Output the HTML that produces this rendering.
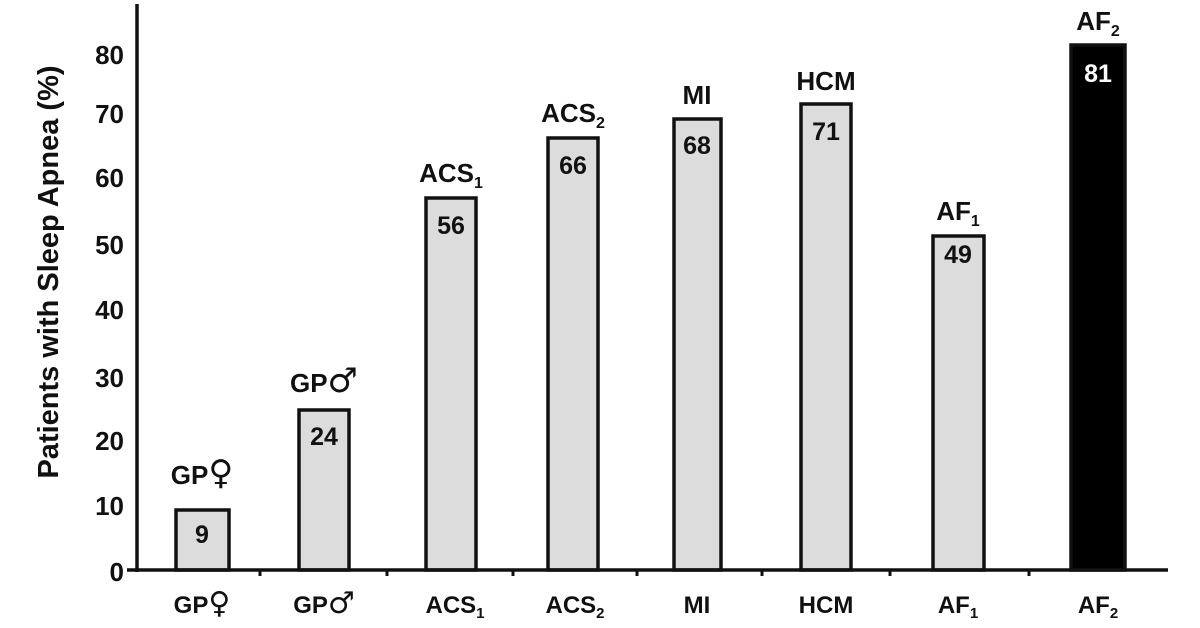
<!DOCTYPE html>
<html><head><meta charset="utf-8"><style>
html,body{margin:0;padding:0;background:#fff}
svg{display:block}
text{font-family:"Liberation Sans",Arial,sans-serif;font-weight:bold;fill:#111}
.g{font-family:"DejaVu Sans",sans-serif;font-weight:normal}
</style></head><body>
<svg width="1200" height="628" viewBox="0 0 1200 628" xmlns="http://www.w3.org/2000/svg">
<text transform="translate(58,272) rotate(-90)" text-anchor="middle" font-size="29">Patients with Sleep Apnea (%)</text>
<g font-size="26" text-anchor="end">
<text x="124" y="64">80</text><text x="124" y="123">70</text><text x="124" y="187">60</text>
<text x="124" y="254">50</text><text x="124" y="319">40</text><text x="124" y="387">30</text>
<text x="124" y="450">20</text><text x="124" y="515">10</text><text x="124" y="581">0</text>
</g>
<g fill="#dcdcdc" stroke="#111" stroke-width="3.5">
<rect x="176" y="510" width="53" height="60"/>
<rect x="299" y="410" width="50" height="160"/>
<rect x="426" y="198" width="50" height="372"/>
<rect x="548" y="138" width="50" height="432"/>
<rect x="674" y="119" width="47" height="451"/>
<rect x="801" y="104" width="50" height="466"/>
<rect x="933" y="236" width="51" height="334"/>
<rect x="1071" y="45" width="54" height="525" fill="#000"/>
</g>
<line x1="137" y1="4" x2="137" y2="572" stroke="#111" stroke-width="3.5"/>
<line x1="127" y1="570" x2="1168" y2="570" stroke="#111" stroke-width="3.5"/>
<g stroke="#111" stroke-width="3">
<line x1="260" y1="570" x2="260" y2="576"/><line x1="387" y1="570" x2="387" y2="576"/>
<line x1="513" y1="570" x2="513" y2="576"/><line x1="637" y1="570" x2="637" y2="576"/>
<line x1="762" y1="570" x2="762" y2="576"/><line x1="890" y1="570" x2="890" y2="576"/>
<line x1="1029" y1="570" x2="1029" y2="576"/>
</g>
<g font-size="25" text-anchor="middle">
<text x="202" y="543">9</text><text x="324" y="445">24</text><text x="451" y="234">56</text>
<text x="573" y="174">66</text><text x="697" y="154">68</text><text x="826" y="140">71</text>
<text x="958" y="263">49</text><text x="1098" y="82" style="fill:#fff">81</text>
</g>
<g font-size="26" text-anchor="middle">
<text x="202" y="484">GP<tspan class="g" font-size="34">♀</tspan></text>
<text x="324" y="392">GP<tspan class="g" font-size="34">♂</tspan></text>
<text x="451" y="182">ACS<tspan font-size="16" dy="6">1</tspan></text>
<text x="573" y="122">ACS<tspan font-size="16" dy="6">2</tspan></text>
<text x="697" y="104">MI</text>
<text x="826" y="90">HCM</text>
<text x="958" y="220">AF<tspan font-size="16" dy="6">1</tspan></text>
<text x="1098" y="30">AF<tspan font-size="16" dy="6">2</tspan></text>
</g>
<g font-size="24" text-anchor="middle">
<text x="202" y="613">GP<tspan class="g" font-size="30">♀</tspan></text>
<text x="324" y="613">GP<tspan class="g" font-size="30">♂</tspan></text>
<text x="455" y="613">ACS<tspan font-size="15" dy="5">1</tspan></text>
<text x="575" y="613">ACS<tspan font-size="15" dy="5">2</tspan></text>
<text x="697" y="613">MI</text>
<text x="826" y="613">HCM</text>
<text x="958" y="613">AF<tspan font-size="15" dy="5">1</tspan></text>
<text x="1098" y="613">AF<tspan font-size="15" dy="5">2</tspan></text>
</g>
</svg>
</body></html>
